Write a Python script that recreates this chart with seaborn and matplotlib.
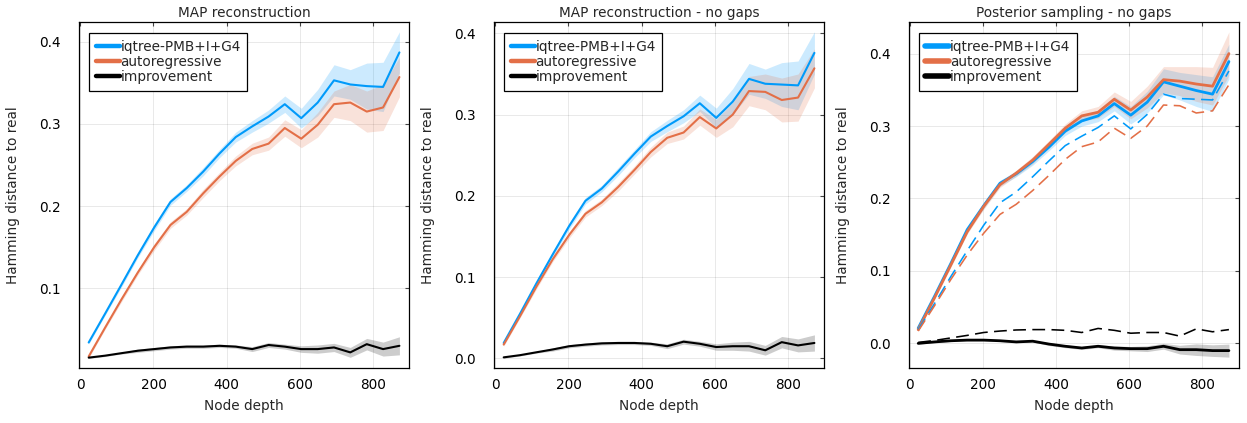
import matplotlib
matplotlib.use("Agg")
import numpy as np
import seaborn as sns
import matplotlib.pyplot as plt
from matplotlib.lines import Line2D

# ---------------- data ----------------
depth = [23, 67.7, 112, 157, 202, 246.5, 291, 336, 380.6, 425,
         470, 514.7, 559, 604, 649, 693.5, 738, 783, 827.6, 872.3]

series_names = ["iqtree-PMB+I+G4", "autoregressive", "improvement"]
titles = ["MAP reconstruction", "MAP reconstruction - no gaps", "Posterior sampling - no gaps"]

# Panel 1: MAP reconstruction
p1_iqtree = [0.034, 0.069, 0.104, 0.140, 0.174, 0.205, 0.222, 0.242, 0.264, 0.284,
             0.297, 0.309, 0.324, 0.307, 0.326, 0.353, 0.348, 0.346, 0.345, 0.387]
p1_iqtree_hw = [0.002, 0.002, 0.003, 0.003, 0.004, 0.004, 0.004, 0.005, 0.005, 0.006,
                0.007, 0.008, 0.010, 0.012, 0.016, 0.019, 0.018, 0.028, 0.030, 0.025]
p1_auto = [0.017, 0.052, 0.086, 0.119, 0.150, 0.177, 0.193, 0.2155, 0.236, 0.255,
           0.2695, 0.276, 0.295, 0.282, 0.299, 0.324, 0.326, 0.315, 0.320, 0.357]
p1_auto_hw = [0.002, 0.002, 0.003, 0.003, 0.004, 0.004, 0.004, 0.005, 0.005, 0.006,
              0.007, 0.008, 0.010, 0.011, 0.015, 0.016, 0.022, 0.025, 0.028, 0.024]
p1_impr = [0.0156, 0.018, 0.021, 0.024, 0.026, 0.028, 0.029, 0.029, 0.030, 0.029,
           0.026, 0.031, 0.029, 0.026, 0.026, 0.028, 0.022, 0.032, 0.026, 0.030]
p1_impr_hw = [0.001, 0.001, 0.001, 0.002, 0.002, 0.002, 0.002, 0.002, 0.002, 0.002,
              0.003, 0.003, 0.003, 0.004, 0.005, 0.005, 0.006, 0.007, 0.0085, 0.011]

# Panel 2: MAP reconstruction - no gaps
p2_iqtree = [0.019, 0.055, 0.092, 0.128, 0.163, 0.194, 0.209, 0.230, 0.252, 0.273,
             0.286, 0.298, 0.314, 0.296, 0.316, 0.344, 0.338, 0.337, 0.336, 0.376]
p2_iqtree_hw = [0.002, 0.002, 0.003, 0.003, 0.004, 0.004, 0.004, 0.005, 0.005, 0.006,
                0.007, 0.008, 0.010, 0.012, 0.016, 0.019, 0.018, 0.027, 0.030, 0.026]
p2_auto = [0.017, 0.052, 0.088, 0.122, 0.152, 0.178, 0.192, 0.211, 0.232, 0.254,
           0.2715, 0.278, 0.297, 0.283, 0.300, 0.329, 0.328, 0.318, 0.321, 0.357]
p2_auto_hw = [0.002, 0.002, 0.003, 0.003, 0.004, 0.004, 0.004, 0.005, 0.005, 0.006,
              0.007, 0.008, 0.010, 0.011, 0.015, 0.018, 0.022, 0.027, 0.029, 0.024]
p2_impr = [0.0013, 0.004, 0.0075, 0.011, 0.015, 0.017, 0.0185, 0.019, 0.019, 0.018,
           0.015, 0.0206, 0.018, 0.014, 0.015, 0.015, 0.010, 0.020, 0.016, 0.019]
p2_impr_hw = [0.001, 0.001, 0.001, 0.002, 0.002, 0.002, 0.002, 0.002, 0.002, 0.002,
              0.003, 0.003, 0.003, 0.004, 0.005, 0.006, 0.006, 0.007, 0.008, 0.010]

# Panel 3: Posterior sampling - no gaps (dashed = panel 2 MAP values)
p3_iqtree = [0.021, 0.065, 0.110, 0.157, 0.190, 0.221, 0.234, 0.251, 0.271, 0.293,
             0.307, 0.314, 0.331, 0.315, 0.333, 0.361, 0.355, 0.349, 0.344, 0.389]
p3_iqtree_hw = [0.002, 0.002, 0.003, 0.003, 0.004, 0.004, 0.004, 0.005, 0.005, 0.006,
                0.007, 0.008, 0.010, 0.012, 0.015, 0.018, 0.019, 0.022, 0.024, 0.024]
p3_auto = [0.019, 0.063, 0.108, 0.154, 0.189, 0.219, 0.235, 0.253, 0.275, 0.297,
           0.314, 0.319, 0.337, 0.322, 0.340, 0.364, 0.362, 0.358, 0.355, 0.400]
p3_auto_hw = [0.002, 0.002, 0.003, 0.003, 0.004, 0.004, 0.004, 0.005, 0.005, 0.006,
              0.007, 0.008, 0.010, 0.012, 0.015, 0.018, 0.020, 0.024, 0.026, 0.030]
p3_impr = [0.0, 0.002, 0.0036, 0.0045, 0.0045, 0.0036, 0.002, 0.003, -0.001, -0.004,
           -0.0064, -0.004, -0.0064, -0.0073, -0.0073, -0.004, -0.0087, -0.0087, -0.010, -0.010]
p3_impr_hw = [0.001, 0.001, 0.001, 0.001, 0.001, 0.001, 0.001, 0.001, 0.002, 0.002,
              0.002, 0.002, 0.003, 0.003, 0.004, 0.004, 0.006, 0.008, 0.008, 0.009]

panels = [
    ([p1_iqtree, p1_auto, p1_impr], [p1_iqtree_hw, p1_auto_hw, p1_impr_hw], None),
    ([p2_iqtree, p2_auto, p2_impr], [p2_iqtree_hw, p2_auto_hw, p2_impr_hw], None),
    ([p3_iqtree, p3_auto, p3_impr], [p3_iqtree_hw, p3_auto_hw, p3_impr_hw],
     [p2_iqtree, p2_auto, p2_impr]),
]

# ---------------- style ----------------
sns.set_theme(style="white")
plt.rcParams['font.family'] = ['DejaVu Sans']

FS = 9.8
colors = ["#009AFA", "#E36F47", "#000000"]
ylims = [(0.003, 0.424), (-0.0118, 0.414), (-0.034, 0.4436)]
yticks = [[0.1, 0.2, 0.3, 0.4], [0.0, 0.1, 0.2, 0.3, 0.4], [0.0, 0.1, 0.2, 0.3, 0.4]]
lefts = [79, 494, 908.5]
W, H = 1247, 423

fig = plt.figure(figsize=(W / 100, H / 100), dpi=100)
fig.patch.set_facecolor("white")

for i, (means, hws, dashed) in enumerate(panels):
    ax = fig.add_axes([lefts[i] / W, 1 - 368 / H, 330 / W, 346 / H])
    lw = 2.0 if i == 2 else 1.5
    for k in range(3):
        m = np.asarray(means[k])
        hw = np.asarray(hws[k])
        ax.fill_between(depth, m - hw, m + hw, color=colors[k], alpha=0.2, lw=0)
        sns.lineplot(x=depth, y=means[k], ax=ax, color=colors[k], lw=lw,
                     legend=False, errorbar=None, sort=False)
    if dashed is not None:
        for k in range(3):
            ax.plot(depth, dashed[k], color=colors[k], lw=1.15,
                    linestyle=(0, (8, 4)))

    ax.set_xlim(-3.5, 898.5)
    ax.set_ylim(*ylims[i])
    ax.set_xticks([0, 200, 400, 600, 800])
    ax.set_yticks(yticks[i])
    ax.set_yticklabels([f"{v:.1f}" for v in yticks[i]])
    ax.grid(True, color="black", alpha=0.1, lw=0.6)
    ax.tick_params(direction="in", length=3, width=0.8, color="#444444",
                   top=True, right=True, labelsize=FS, labelcolor="black")
    ax.tick_params(axis="y", pad=13)
    ax.tick_params(axis="x", pad=7.5)
    for s in ax.spines.values():
        s.set_color("black")
        s.set_linewidth(0.9)

    ax.set_title(titles[i], fontsize=FS, pad=3.5)
    ax.set_xlabel("Node depth", fontsize=FS)
    ax.set_ylabel("Hamming distance to real", fontsize=FS)
    ax.yaxis.set_label_coords(-0.178, 0.5)
    ax.xaxis.set_label_coords(0.5, -0.09)

    hlw = 4.0 if i == 2 else 3.2
    handles = [Line2D([0], [0], color=colors[k], lw=hlw, solid_capstyle="round")
               for k in range(3)]
    leg = ax.legend(handles, series_names, loc="upper left",
                    bbox_to_anchor=(10 / 330, 1 - 11 / 346), borderaxespad=0,
                    fontsize=FS, handlelength=1.75, handletextpad=0.05,
                    labelspacing=0.08, borderpad=0.5, fancybox=False,
                    framealpha=1, edgecolor="black")
    leg.get_frame().set_linewidth(0.9)

fig.savefig("out.png", dpi=100, facecolor="white")
